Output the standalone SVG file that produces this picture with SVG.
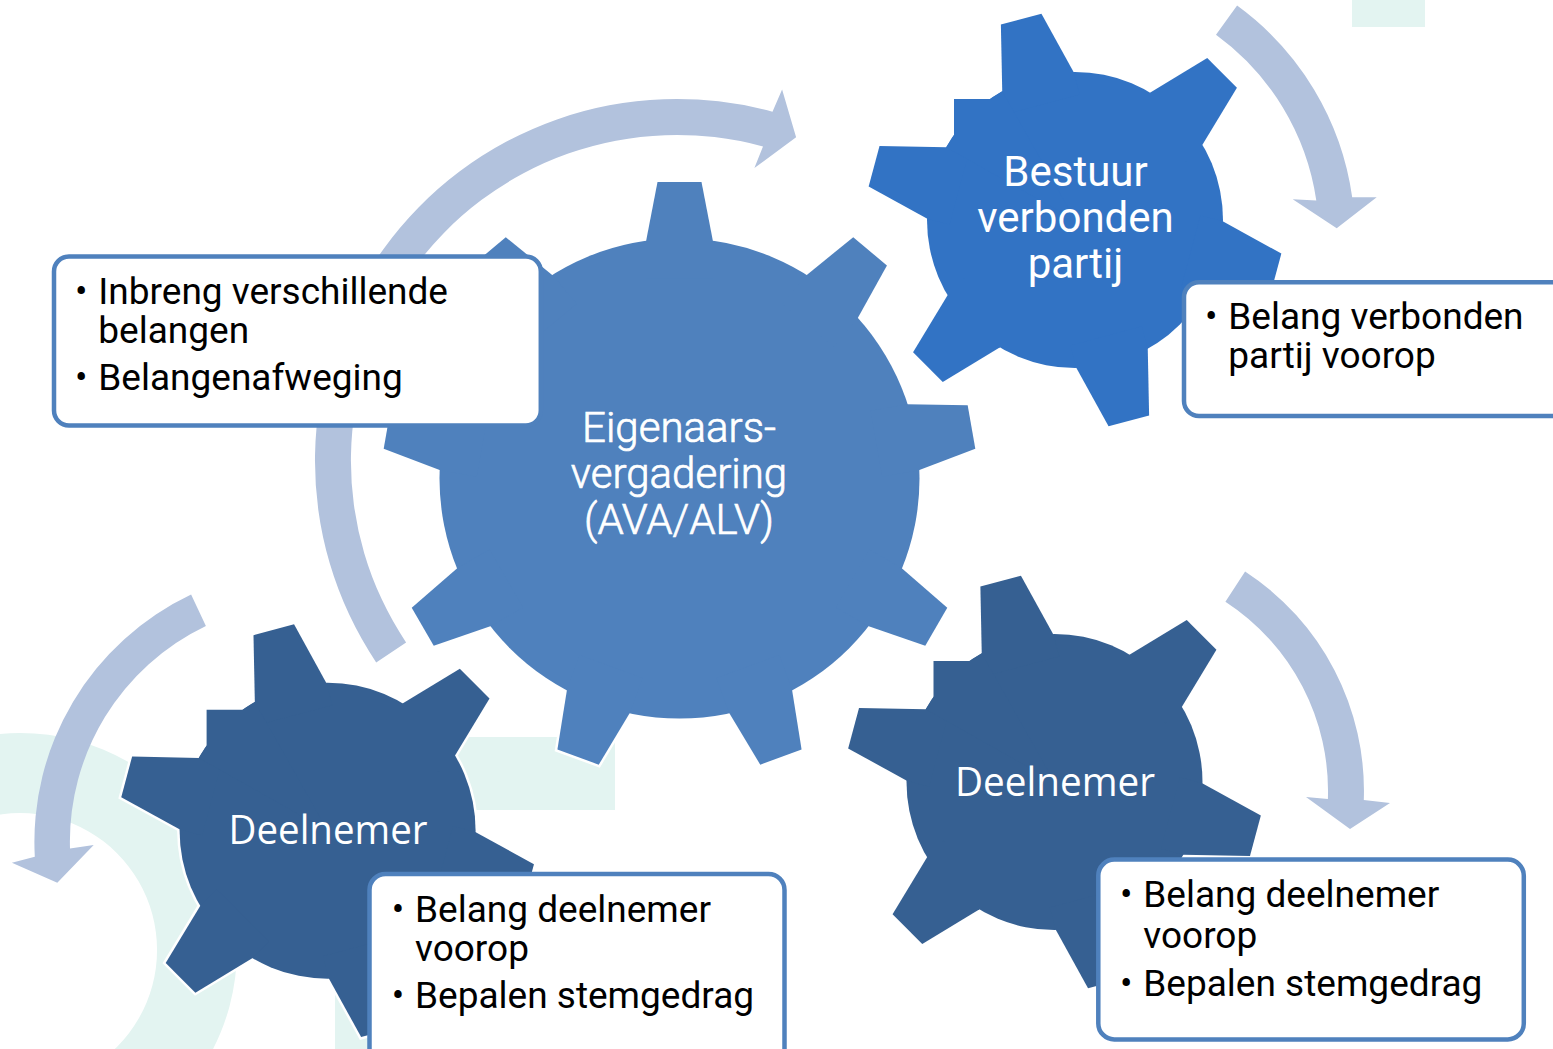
<svg xmlns="http://www.w3.org/2000/svg" xmlns:xlink="http://www.w3.org/1999/xlink" width="1553" height="1049" viewBox="0 0 1553 1049">
<style>
.wm{fill:#E3F4F1}
.arrow{fill:#B2C2DD}
.box{fill:#fff;stroke:#4F81BD;stroke-width:4.5}
.bt{font-family:Roboto,'Liberation Sans',sans-serif;font-size:37px;fill:#000}
.gt{font-family:Roboto,'Liberation Sans',sans-serif;font-size:42px;fill:#fff;text-anchor:middle}
.gl{font-weight:300;stroke:#fff;stroke-width:0.7}
.dt{font-family:'Open Sans','Noto Sans',sans-serif;font-size:41px;fill:#fff;text-anchor:middle}
.outline{fill:#fff;stroke:#fff;stroke-width:5;stroke-linejoin:miter}
</style>
<defs>
<path id="t9" d="M-33.5,-237 L-22,-296.5 L22,-296.5 L33.5,-237 L33.5,-200 L-33.5,-200 Z"/>
<g id="gear9">
<circle r="240"/>
<use href="#t9"/>
<use href="#t9" transform="rotate(40)"/>
<use href="#t9" transform="rotate(80)"/>
<use href="#t9" transform="rotate(120)"/>
<use href="#t9" transform="rotate(160)"/>
<use href="#t9" transform="rotate(200)"/>
<use href="#t9" transform="rotate(240)"/>
<use href="#t9" transform="rotate(280)"/>
<use href="#t9" transform="rotate(320)"/>
</g>
<path id="t6" d="M-37,-143 L-21,-208 L21,-208 L37,-143 L37,-120 L-37,-120 Z"/>
<g id="gear6">
<circle r="148"/>
<use href="#t6" transform="rotate(-15)"/>
<use href="#t6" transform="rotate(45)"/>
<use href="#t6" transform="rotate(105)"/>
<use href="#t6" transform="rotate(165)"/>
<use href="#t6" transform="rotate(225)"/>
<use href="#t6" transform="rotate(285)"/>
<polygon points="0,0 -72.8,-128.8 -85,-121 -121,-121 -121,-85 -128.8,-72.8"/>
</g>
</defs>

<g id="watermark">
<path class="wm" fill-rule="evenodd" d="M20,733 A217,217 0 1 1 19.9,733 Z M20,813 A137,137 0 1 0 20.1,813 Z"/>
<rect class="wm" x="456" y="737" width="159" height="73"/>
<rect class="wm" x="335" y="975" width="38" height="74"/>
<rect class="wm" x="1352" y="0" width="73" height="27"/>
</g>

<g id="connectors">
<path class="arrow" d="M376.2,662.4 A362,362 0 0 1 772.5,111.8 L782.1,89.6 L796.1,137.2 L754.4,168.1 L763,146.5 A326,326 0 0 0 406.1,642.4 Z"/>
<path class="arrow" d="M1237.1,5.6 A286,286 0 0 1 1352.2,197.2 L1376.7,197.3 L1336.7,228.3 L1292.7,199.3 L1316.3,200.5 A250,250 0 0 0 1216,34.8 Z"/>
<path class="arrow" d="M1245.1,571.5 A262,262 0 0 1 1363.8,800.1 L1390,803 L1350,829 L1306,797 L1327.9,798.9 A226,226 0 0 0 1225.4,601.7 Z"/>
<path class="arrow" d="M191.1,594.6 A273.6,273.6 0 0 0 34.8,856.8 L11.9,862.7 L57.3,882.7 L93.7,845 L70,848.5 A239,239 0 0 1 205.9,625.9 Z"/>
</g>

<g id="node-eigenaars">
<g transform="translate(679.5,478.5)">
<use href="#gear9" class="outline"/>
<use href="#gear9" fill="#4F81BD"/>
</g>
<text class="gt gl" x="679" y="441.5">Eigenaars-</text>
<text class="gt gl" x="679" y="487.5">vergadering</text>
<text class="gt gl" x="679" y="533.5">(AVA/ALV)</text>
</g>

<g id="node-bestuur">
<g transform="translate(1075,220)">
<use href="#gear6" class="outline"/>
<use href="#gear6" fill="#3273C4"/>
</g>
<text class="gt" x="1075.5" y="185.5">Bestuur</text>
<text class="gt" x="1075.5" y="231.5">verbonden</text>
<text class="gt" x="1075.5" y="277.5">partij</text>
</g>

<g id="node-deelnemer-rechts">
<g transform="translate(1054.5,782)">
<use href="#gear6" class="outline"/>
<use href="#gear6" fill="#366092"/>
</g>
<text class="dt" x="1055" y="795.7" textLength="200" lengthAdjust="spacingAndGlyphs">Deelnemer</text>
</g>

<g id="node-deelnemer-links">
<g transform="translate(327.6,830.7)">
<use href="#gear6" class="outline"/>
<use href="#gear6" fill="#366092"/>
</g>
<text class="dt" x="328" y="844" textLength="199" lengthAdjust="spacingAndGlyphs">Deelnemer</text>
</g>

<g id="box-inbreng">
<rect class="box" x="54" y="256.5" width="486.8" height="169" rx="15"/>
<text class="bt" x="75" y="304.3">•</text>
<text class="bt" x="98.3" y="304.3">Inbreng verschillende</text>
<text class="bt" x="98.3" y="343.3">belangen</text>
<text class="bt" x="75" y="390.3">•</text>
<text class="bt" x="98.3" y="390.3">Belangenafweging</text>
</g>

<g id="box-verbonden">
<rect class="box" x="1184" y="282.3" width="420" height="133.8" rx="15"/>
<text class="bt" x="1205" y="329.3">•</text>
<text class="bt" x="1228.3" y="329.3">Belang verbonden</text>
<text class="bt" x="1228.3" y="368.3">partij voorop</text>
</g>

<g id="box-deelnemer-links">
<rect class="box" x="369.5" y="874" width="415" height="200" rx="16"/>
<text class="bt" x="391.7" y="921.7">•</text>
<text class="bt" x="415" y="921.7">Belang deelnemer</text>
<text class="bt" x="415" y="960.7">voorop</text>
<text class="bt" x="391.7" y="1008.3">•</text>
<text class="bt" x="415" y="1008.3">Bepalen stemgedrag</text>
</g>

<g id="box-deelnemer-rechts">
<rect class="box" x="1098.3" y="859.6" width="425.5" height="179.8" rx="16"/>
<text class="bt" x="1120" y="907">•</text>
<text class="bt" x="1143.3" y="907">Belang deelnemer</text>
<text class="bt" x="1143.3" y="948">voorop</text>
<text class="bt" x="1120" y="995.5">•</text>
<text class="bt" x="1143.3" y="995.5">Bepalen stemgedrag</text>
</g>
</svg>
